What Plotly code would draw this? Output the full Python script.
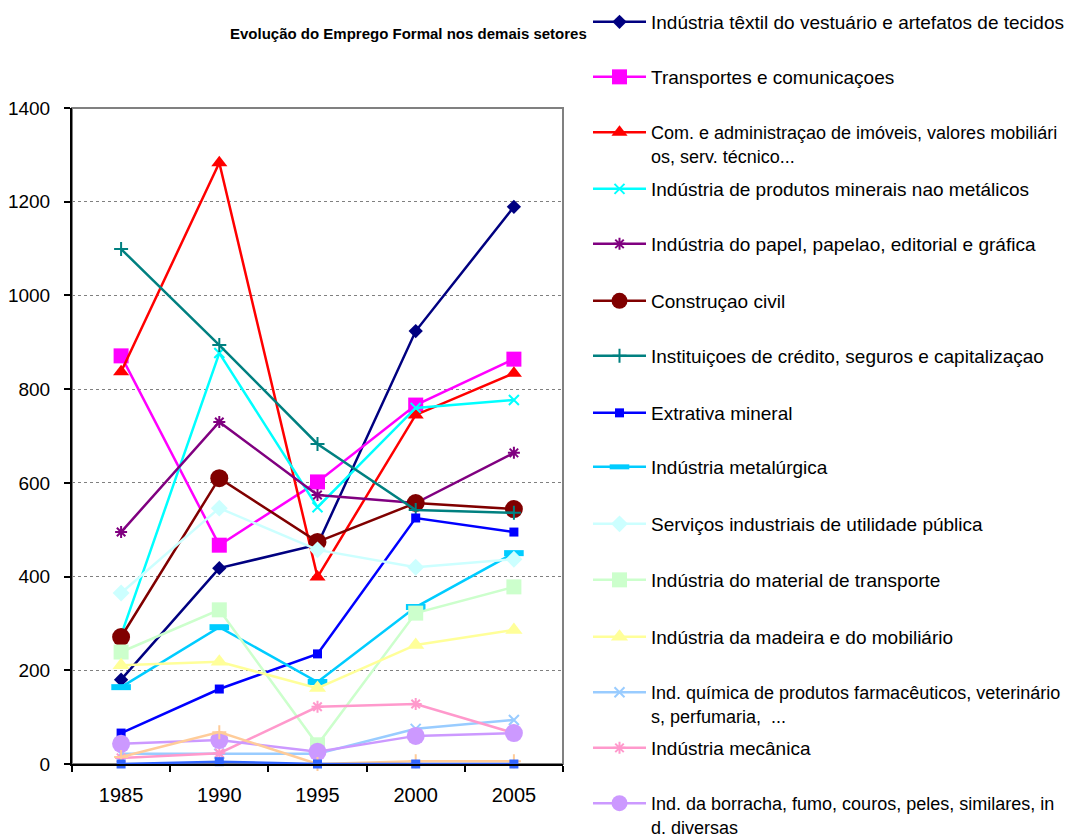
import plotly.graph_objects as go

years = ["1985", "1990", "1995", "2000", "2005"]

series_names = [
    "Indústria têxtil do vestuário e artefatos de tecidos",
    "Transportes e comunicaçoes",
    "Com. e administraçao de imóveis, valores mobiliári<br>os, serv. técnico...",
    "Indústria de produtos minerais nao metálicos",
    "Indústria do papel, papelao, editorial e gráfica",
    "Construçao civil",
    "Instituiçoes de crédito, seguros e capitalizaçao",
    "Extrativa mineral",
    "Indústria metalúrgica",
    "Serviços industriais de utilidade pública",
    "Indústria do material de transporte",
    "Indústria da madeira e do mobiliário",
    "Ind. química de produtos farmacêuticos, veterinário<br>s, perfumaria,  ...",
    "Indústria mecânica",
    "Ind. da borracha, fumo, couros, peles, similares, in<br>d. diversas",
    "Indústria do material elétrico e de comunicaçoes",
    "Indústria de calçados",
]

textil = [180, 418, 468, 924, 1189]
transportes = [871, 467, 602, 766, 864]
com_admin = [837, 1283, 399, 745, 834]
minerais = [275, 877, 548, 760, 777]
papel = [495, 730, 574, 557, 664]
construcao = [271, 610, 474, 557, 544]
credito = [1099, 894, 683, 542, 536]
extrativa = [66, 160, 235, 525, 495]
metalurgica = [164, 292, 175, 335, 450]
servicos = [365, 546, 457, 420, 437]
material_transp = [239, 329, 41, 322, 378]
madeira = [211, 218, 162, 254, 286]
quimica = [22, 22, 22, 75, 94]
mecanica = [13, 23, 122, 128, 66]
borracha = [43, 51, 26, 60, 66]
eletrico = [15, 68, 0, 6, 6]
calcados = [0, 5, 0, 0, 0]

values = [textil, transportes, com_admin, minerais, papel, construcao, credito,
          extrativa, metalurgica, servicos, material_transp, madeira, quimica,
          mecanica, borracha, eletrico, calcados]

colors = ["#000080", "#FF00FF", "#FF0000", "#00FFFF", "#800080", "#800000",
          "#008080", "#0000FF", "#00CCFF", "#CCFFFF", "#CCFFCC", "#FFFF99",
          "#99CCFF", "#FF99CC", "#CC99FF", "#FFCC99", "#3366FF"]
symbols = ["diamond", "square", "triangle-up", "x-thin-open", "asterisk-open",
           "circle", "cross-thin-open", "square", "line-ew-open", "diamond",
           "square", "triangle-up", "x-thin-open", "asterisk-open", "circle",
           "cross-thin-open", "square"]
sizes = [11, 15, 14, 10, 10, 18, 10, 9, 14, 13, 15, 15, 10, 10, 18, 10, 9]

# legend slot centres (window pixel rows of first text line)
legend_rows = [22, 77, 133, 189, 244, 301, 356, 413, 467, 524, 580, 637, 693, 748, 804]

OFF = 8  # page body margin
W, H = 1082 - OFF, 837 - OFF
L, T = 72 - OFF, 108 - OFF
R, B = W - (563 - OFF), H - (764 - OFF)
pw, ph = W - L - R, H - T - B


def px_x(x):
    return (x - OFF - L) / pw


def px_y(y):
    return (H - B - (y - OFF)) / ph


fig = go.Figure()
layout_legends = {}
for i, (name, vals) in enumerate(zip(series_names, values)):
    sym = symbols[i]
    open_sym = sym.endswith("open")
    marker = dict(symbol=sym, size=sizes[i], color=colors[i])
    if open_sym:
        marker["line"] = dict(color=colors[i], width=2 if sym != "line-ew-open" else 6)
    show = i < len(legend_rows)
    lg = "legend" if i == 0 else f"legend{i + 1}"
    tr = dict(
        x=years, y=vals, name=name, mode="lines+markers",
        line=dict(color=colors[i], width=2.5),
        marker=marker, cliponaxis=False, showlegend=show,
    )
    if show:
        tr["legend"] = lg
        row = legend_rows[i]
        fsize = 18 if "<br>" in name else 19
        layout_legends[lg] = dict(
            x=px_x(588), xanchor="left",
            y=px_y(row - 19), yanchor="top",
            bgcolor="rgba(0,0,0,0)", borderwidth=0,
            font=dict(family="Liberation Sans, Arial", size=fsize, color="#000000"),
            itemwidth=53, valign="top",
            itemsizing="trace",
        )
    fig.add_trace(go.Scatter(**tr))

fig.update_layout(
    width=W, height=H,
    margin=dict(l=L, r=R, t=T, b=B, pad=0, autoexpand=False),
    paper_bgcolor="white", plot_bgcolor="white",
    font=dict(family="Liberation Sans, Arial", color="#000000"),
    showlegend=True,
    **layout_legends,
)

fig.add_annotation(
    text="<b>Evolução do Emprego Formal nos demais setores</b>",
    xref="paper", yref="paper",
    x=px_x(408), y=px_y(33),
    xanchor="center", yanchor="middle", showarrow=False,
    font=dict(family="Liberation Sans, Arial", size=15, color="#000000"),
)

fig.add_shape(type="rect", xref="paper", yref="paper", x0=0, y0=0, x1=1, y1=1,
              line=dict(color="#808080", width=2), layer="below")

fig.update_xaxes(
    type="category", range=[-0.5, 4.5],
    showline=True, linecolor="#000000", linewidth=2,
    ticks="outside", tickson="boundaries", ticklen=6, tickwidth=2, tickcolor="#000000",
    tickfont=dict(size=20, family="Liberation Sans, Arial"),
    ticklabelstandoff=12,
    showgrid=False, zeroline=False,
)
fig.update_yaxes(
    range=[0, 1400], dtick=200,
    showline=True, linecolor="#000000", linewidth=2,
    ticks="outside", ticklen=6, tickwidth=2, tickcolor="#000000",
    tickfont=dict(size=19, family="Liberation Sans, Arial"),
    ticklabelstandoff=10,
    showgrid=True, gridcolor="#808080", griddash="dot", gridwidth=1,
    zeroline=False,
)

fig.write_html("out.html")
